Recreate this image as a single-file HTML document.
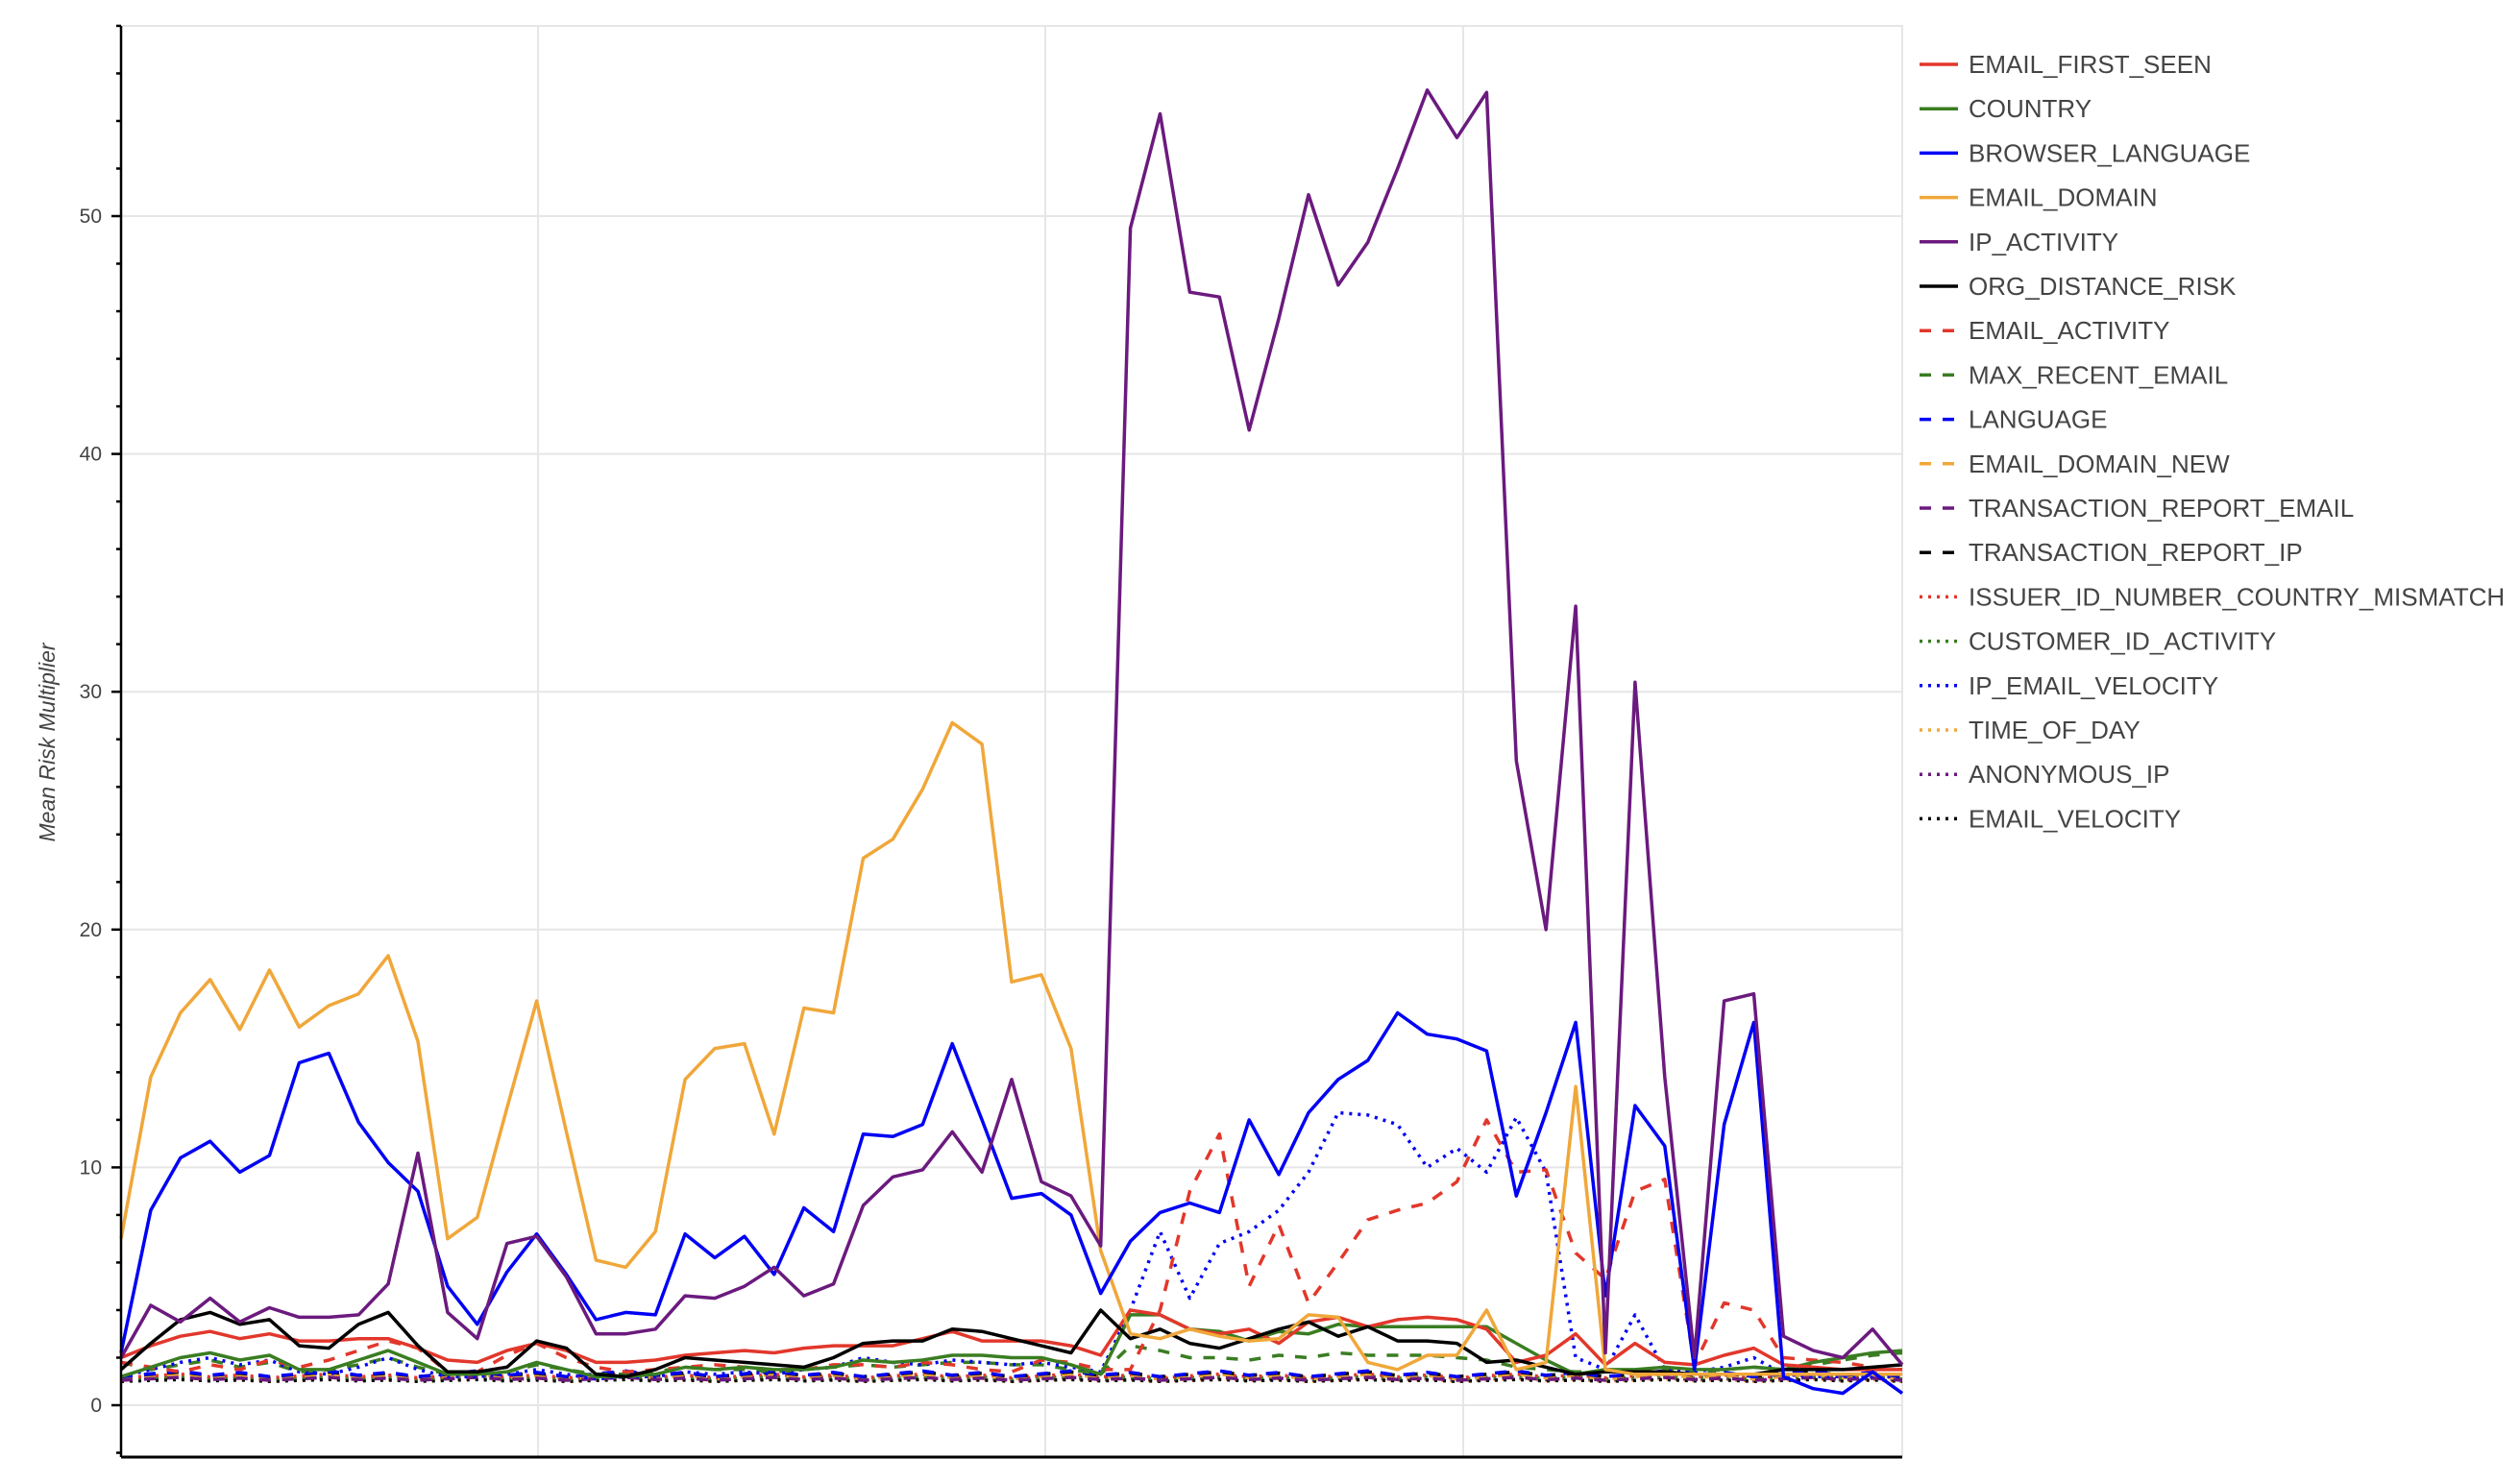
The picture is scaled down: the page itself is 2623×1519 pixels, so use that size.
<!DOCTYPE html>
<html><head><meta charset="utf-8"><style>
html,body{margin:0;padding:0;background:#fff;}
svg{display:block;font-family:"Liberation Sans",sans-serif;}
</style></head><body>
<svg id="c" width="2623" height="1519" xmlns="http://www.w3.org/2000/svg"></svg>
<script>
const svg=document.getElementById('c');
const L=126,R=1980,T=27,B=1517,Y0=1463,PU=24.76;
const X=i=>L+i*(R-L)/60, Y=v=>Y0-v*PU;
let h='';
// grid
h+=`<rect x="${L}" y="${T}" width="${R-L}" height="${B-T}" fill="none" stroke="#e6e6e6" stroke-width="2"/>`;
for(let v=0;v<=50;v+=10)h+=`<line x1="${L}" x2="${R}" y1="${Y(v)}" y2="${Y(v)}" stroke="#e6e6e6" stroke-width="2"/>`;
[560,1088,1523].forEach(x=>h+=`<line x1="${x}" x2="${x}" y1="${T}" y2="${B}" stroke="#e6e6e6" stroke-width="2"/>`);
const C={r:'#e2372b',g:'#3a7d22',b:'#0000f5',o:'#f0a73a',p:'#6b1a7e',k:'#000'};
const S={s:'',d:'12 12',t:'3 6'};
function ser(vals,col,st,w){let p=vals.map((v,i)=>(i?'L':'M')+X(i).toFixed(1)+','+Y(v).toFixed(1)).join('');
 h+=`<path d="${p}" fill="none" stroke="${col}" stroke-width="${w||3.5}" stroke-dasharray="${st}" stroke-linejoin="round"/>`;}
function flat(base,n){let a=[];for(let i=0;i<61;i++)a.push(base+((i*7)%5)*n);return a;}
// low dotted/dashed series
ser(flat(1.0,0.03),C.o,S.t);ser(flat(1.05,0.03),C.p,S.t);ser(flat(1.0,0.02),C.k,S.t);
ser(flat(1.1,0.03),C.g,S.t);ser(flat(1.15,0.04),C.r,S.t);
ser(flat(1.1,0.05),C.o,S.d);ser(flat(1.05,0.03),C.p,S.d);ser(flat(1.2,0.05),C.k,S.d);ser(flat(1.2,0.06),C.b,S.d);
const mre=[1.8,1.5,1.7,1.9,1.6,1.8,1.4,1.5,1.7,2.0,1.6,1.3,1.3,1.4,1.7,1.5,1.3,1.3,1.4,1.6,1.5,1.5,1.4,1.5,1.6,1.7,1.6,1.7,1.8,1.8,1.7,1.7,1.5,1.3,2.5,2.3,2.0,2.0,1.9,2.1,2.0,2.2,2.1,2.1,2.1,2.0,1.9,1.6,1.5,1.4,1.4,1.5,1.5,1.4,1.5,1.6,1.5,1.7,1.9,2.1,2.2];
ser(mre,C.g,S.d);
const iev=[1.2,1.5,1.8,2.0,1.7,1.9,1.4,1.3,1.6,2.0,1.5,1.2,1.2,1.3,1.5,1.3,1.1,1.2,1.2,1.4,1.3,1.4,1.3,1.5,1.6,2.0,1.8,1.7,1.9,1.8,1.7,1.8,1.6,1.4,4.0,7.3,4.5,6.8,7.3,8.2,9.8,12.3,12.2,11.8,10.0,10.8,9.8,12.1,9.8,2.0,1.5,3.8,1.5,1.4,1.6,2.0,1.3,1.2,1.2,1.2,1.2];
ser(iev,C.b,S.t);
const ea=[1.8,1.6,1.4,1.7,1.5,1.9,1.6,1.9,2.3,2.7,2.4,1.4,1.4,2.1,2.6,2.0,1.6,1.4,1.5,1.6,1.7,1.6,1.5,1.5,1.7,1.7,1.6,1.8,1.7,1.5,1.4,1.9,1.8,1.5,1.5,4.0,9.0,11.4,5.0,7.6,4.3,6.0,7.8,8.2,8.5,9.4,12.0,9.8,9.9,6.4,5.3,9.0,9.5,1.7,4.3,4.0,2.0,1.9,1.8,1.6,1.5];
ser(ea,C.r,S.d);
const co=[1.2,1.6,2.0,2.2,1.9,2.1,1.5,1.5,1.9,2.3,1.8,1.3,1.3,1.4,1.8,1.5,1.2,1.2,1.3,1.6,1.5,1.6,1.5,1.5,1.6,1.9,1.8,1.9,2.1,2.1,2.0,2.0,1.7,1.3,3.8,3.8,3.2,3.1,2.7,3.1,3.0,3.4,3.3,3.3,3.3,3.3,3.3,2.6,1.9,1.3,1.5,1.5,1.6,1.5,1.5,1.6,1.5,1.8,2.0,2.2,2.3];
ser(co,C.g,S.s);
const fs=[2.0,2.5,2.9,3.1,2.8,3.0,2.7,2.7,2.8,2.8,2.4,1.9,1.8,2.3,2.6,2.3,1.8,1.8,1.9,2.1,2.2,2.3,2.2,2.4,2.5,2.5,2.5,2.8,3.1,2.7,2.7,2.7,2.5,2.1,4.0,3.8,3.2,3.0,3.2,2.6,3.5,3.7,3.3,3.6,3.7,3.6,3.2,1.8,2.1,3.0,1.7,2.6,1.8,1.7,2.1,2.4,1.7,1.6,1.5,1.5,1.5];
ser(fs,C.r,S.s);
const od=[1.5,2.6,3.6,3.9,3.4,3.6,2.5,2.4,3.4,3.9,2.5,1.4,1.4,1.6,2.7,2.4,1.3,1.2,1.5,2.0,1.9,1.8,1.7,1.6,2.0,2.6,2.7,2.7,3.2,3.1,2.8,2.5,2.2,4.0,2.8,3.2,2.6,2.4,2.8,3.2,3.5,2.9,3.3,2.7,2.7,2.6,1.8,1.9,1.6,1.3,1.4,1.4,1.4,1.3,1.3,1.3,1.5,1.5,1.5,1.6,1.7];
ser(od,C.k,S.s);
const ed=[7.0,13.8,16.5,17.9,15.8,18.3,15.9,16.8,17.3,18.9,15.3,7.0,7.9,12.5,17.0,11.5,6.1,5.8,7.3,13.7,15.0,15.2,11.4,16.7,16.5,23.0,23.8,25.9,28.7,27.8,17.8,18.1,15.0,6.5,3.0,2.8,3.2,2.9,2.7,2.8,3.8,3.7,1.8,1.5,2.1,2.1,4.0,1.5,1.8,13.4,1.5,1.3,1.3,1.3,1.3,1.3,1.3,1.3,1.3,1.3,1.3];
ser(ed,C.o,S.s);
const bl=[2.2,8.2,10.4,11.1,9.8,10.5,14.4,14.8,11.9,10.2,9.0,5.0,3.4,5.6,7.2,5.5,3.6,3.9,3.8,7.2,6.2,7.1,5.5,8.3,7.3,11.4,11.3,11.8,15.2,12.0,8.7,8.9,8.0,4.7,6.9,8.1,8.5,8.1,12.0,9.7,12.3,13.7,14.5,16.5,15.6,15.4,14.9,8.8,12.3,16.1,4.6,12.6,10.9,1.5,11.8,16.1,1.2,0.7,0.5,1.4,0.5];
ser(bl,C.b,S.s);
const ip=[2.0,4.2,3.5,4.5,3.5,4.1,3.7,3.7,3.8,5.1,10.6,3.9,2.8,6.8,7.1,5.4,3.0,3.0,3.2,4.6,4.5,5.0,5.8,4.6,5.1,8.4,9.6,9.9,11.5,9.8,13.7,9.4,8.8,6.7,49.5,54.3,46.8,46.6,41.0,45.7,50.9,47.1,48.9,52.0,55.3,53.3,55.2,27.1,20.0,33.6,2.2,30.4,13.8,2.0,17.0,17.3,2.9,2.3,2.0,3.2,1.7];
ser(ip,C.p,S.s);
// axes
h+=`<rect x="0" y="${B}" width="2000" height="10" fill="#fff"/>`;
h+=`<line x1="${L}" x2="${L}" y1="${T}" y2="${B}" stroke="#000" stroke-width="2.5"/>`;
h+=`<line x1="${L}" x2="${R}" y1="${B}" y2="${B}" stroke="#000" stroke-width="3"/>`;
for(let v=-2;v<=58;v+=2){const y=Y(v);if(y<T-1||y>B)continue;const maj=v%10==0;
 h+=`<line x1="${L-(maj?10:5)}" x2="${L}" y1="${y}" y2="${y}" stroke="#000" stroke-width="2.5"/>`;
 if(maj)h+=`<text x="${L-20}" y="${y+7}" text-anchor="end" font-size="21" fill="#444">${v}</text>`;}
h+=`<text transform="translate(57,773) rotate(-90)" text-anchor="middle" font-size="23" font-style="italic" fill="#444">Mean Risk Multiplier</text>`;
// legend
const leg=[['EMAIL_FIRST_SEEN','r','s'],['COUNTRY','g','s'],['BROWSER_LANGUAGE','b','s'],['EMAIL_DOMAIN','o','s'],['IP_ACTIVITY','p','s'],['ORG_DISTANCE_RISK','k','s'],
['EMAIL_ACTIVITY','r','d'],['MAX_RECENT_EMAIL','g','d'],['LANGUAGE','b','d'],['EMAIL_DOMAIN_NEW','o','d'],['TRANSACTION_REPORT_EMAIL','p','d'],['TRANSACTION_REPORT_IP','k','d'],
['ISSUER_ID_NUMBER_COUNTRY_MISMATCH','r','t'],['CUSTOMER_ID_ACTIVITY','g','t'],['IP_EMAIL_VELOCITY','b','t'],['TIME_OF_DAY','o','t'],['ANONYMOUS_IP','p','t'],['EMAIL_VELOCITY','k','t']];
leg.forEach((e,k)=>{const y=67+k*46.2;
 h+=`<line x1="1998" x2="2038" y1="${y}" y2="${y}" stroke="${C[e[1]]}" stroke-width="3.5" stroke-dasharray="${e[2]=='d'?'12 12':e[2]=='t'?'3 6':''}"/>`;
 h+=`<text x="2049" y="${y+9}" font-size="26" fill="#444">${e[0]}</text>`;});
svg.innerHTML=h;
</script>
</body></html>
